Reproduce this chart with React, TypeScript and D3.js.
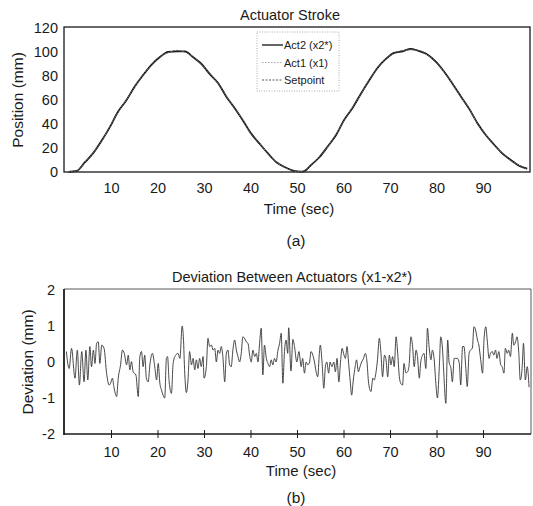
import React from "react";
import * as d3 from "d3";

// Actuator stroke (top panel)
const strokeTime = [0.7, 2.5, 4.3, 6.1, 7.9, 9.7, 11.4, 13.2, 15, 16.8, 18.6, 20.4, 22.2, 24, 25.8, 27.5, 29.3, 31.1, 32.9, 34.7, 36.5, 38.3, 40, 41.8, 43.6, 45.4, 47.2, 49, 50, 51.1, 52.9, 54.7, 56.5, 58.3, 60, 61.9, 63.7, 65.4, 67.2, 69, 70.8, 72.6, 74.4, 76.2, 78, 79.8, 81.5, 83.3, 85.1, 86.9, 88.7, 90.5, 92.3, 94.1, 95.8, 97.6, 99.4];
const setpoint = [0, 1, 8, 16, 26, 38, 50, 60, 71, 81, 89, 96, 99.5, 101, 100, 96, 90, 82, 74, 63, 53, 43, 32, 24, 15.5, 8.5, 4, 1.5, 0.3, 0.5, 5.5, 12.5, 21, 31, 43, 54, 65.5, 76.5, 86.5, 94.5, 99, 101, 102, 101, 97.5, 92, 83.5, 74, 63, 53, 40.5, 31, 22.5, 15.5, 10, 5.5, 2.5];
const act1 = [0.3, 1.2, 7.8, 16.2, 25.8, 38.2, 49.8, 60.2, 70.8, 81.2, 88.8, 96.2, 99.3, 101.4, 99.8, 96.2, 89.8, 82.2, 73.8, 63.2, 52.8, 43.2, 31.8, 24.2, 15.3, 8.7, 3.8, 1.7, 0.2, 0.7, 5.3, 12.7, 20.8, 31.2, 42.8, 54.2, 65.3, 76.7, 86.3, 94.7, 98.8, 101.4, 101.7, 101.3, 97.3, 92.2, 83.3, 74.2, 62.8, 53.2, 40.3, 31.2, 22.3, 15.7, 9.8, 5.7, 2.3];
const act2 = [0.1, 0.9, 8.2, 15.9, 26.2, 37.8, 50.2, 59.8, 71.2, 80.8, 89.3, 95.8, 100.1, 100.5, 100.5, 95.8, 90.2, 81.8, 74.2, 62.8, 53.2, 42.8, 32.2, 23.8, 15.7, 8.3, 4.2, 1.2, 0.5, 0.3, 5.7, 12.3, 21.2, 30.8, 43.2, 53.8, 65.7, 76.3, 86.7, 94.3, 99.3, 100.6, 102.6, 100.7, 97.8, 91.7, 83.7, 73.8, 63.2, 52.8, 40.7, 30.8, 22.7, 15.3, 10.2, 5.3, 2.8];

// Deviation x1 - x2* (bottom panel)
const devTime = [0.3, 0.5, 0.9, 1.4, 2.15, 2.65, 3.1, 3.6, 4.1, 4.5, 4.9, 5.35, 5.7, 6.1, 6.45, 6.8, 7.15, 7.5, 7.9, 8.4, 8.95, 9.5, 9.8, 10.2, 10.5, 11.1, 11.45, 11.95, 12.35, 12.75, 13.25, 13.6, 13.95, 14.3, 14.65, 15.25, 15.75, 16.1, 16.45, 16.8, 17.15, 17.5, 17.9, 18.25, 18.8, 19.3, 19.7, 20.05, 20.4, 20.75, 21.1, 21.45, 21.8, 22.05, 22.4, 22.9, 23.25, 23.8, 24.3,
  24.7, 25.2, 25.45, 25.75, 26.1, 26.45, 26.8, 27.2, 27.55, 27.9, 28.25, 28.6, 28.95, 29.3, 29.7, 29.9, 30.4, 30.75, 31.1, 31.5, 31.85, 32.2, 32.55, 32.9, 33.25, 33.6, 33.95, 34.35, 34.7, 35.05, 35.4, 35.75, 36.1, 36.5, 36.85, 37.2, 37.55, 37.9, 38.25, 38.6, 39.0, 39.35, 39.7, 40.05, 40.4, 40.8, 41.15, 41.5, 41.85, 42.2, 42.55, 42.9, 43.3, 43.65, 44.0, 44.35, 44.7, 45.05, 45.4, 45.8, 46.15, 46.5, 46.85, 47.2, 47.55, 47.9, 48.1, 48.6, 49.0,
  49.35, 49.85, 50.3, 50.8, 51.1, 51.5, 51.85, 52.2, 52.6, 52.9, 53.3, 53.65, 54.0, 54.35, 54.7, 54.9, 55.3, 55.65, 56.0, 56.3, 56.7, 57.0, 57.4, 57.8, 58.15, 58.5, 58.9, 59.2, 59.6, 59.9, 60.3, 60.65, 61.0, 61.35, 61.65, 62.0, 62.4, 62.7, 63.1, 63.45, 63.8, 64.2, 64.6, 64.9, 65.3, 65.8, 66.2, 66.5, 66.9, 67.2, 67.6, 67.95, 68.3, 68.7, 69.0, 69.4, 69.75, 70.1, 70.45, 70.8, 71.2, 71.5, 71.9, 72.2, 72.6, 72.9, 73.3, 73.7, 74.0,
  74.4, 74.75, 75.1, 75.5, 75.8, 76.2, 76.5, 76.9, 77.2, 77.6, 77.95, 78.3, 78.7, 79.0, 79.4, 79.75, 80.1, 80.5, 80.8, 81.2, 81.5, 81.9, 82.3, 82.6, 83.0, 83.3, 83.7, 84.0, 84.4, 84.8, 85.1, 85.5, 85.8, 86.2, 86.5, 86.9, 87.2, 87.6, 87.95, 88.3, 88.7, 89.0, 89.4, 89.8, 90.1, 90.5, 90.8, 91.2, 91.5, 91.9, 92.2, 92.6, 92.9, 93.3, 93.7, 94.0, 94.4, 94.7, 95.1, 95.4, 95.8, 96.2, 96.5, 96.9, 97.2, 97.6, 97.9, 98.3, 98.6, 99.0, 99.4, 99.8];
const devValue = [0.29, 0.05, -0.18, 0.38, -0.45, 0.33, -0.64, 0.29, -0.55, 0.33, -0.5, 0.43, -0.13, 0.33, -0.04, 0.52, 0.56, -0.04, 0.47, 0.38, -0.32, -0.64, -0.59, -0.45, -0.68, -0.96, -0.45, -0.08, 0.33, 0.24, -0.08, 0.19, -0.22, 0.01, -0.27, -0.36, -0.96, 0.15, 0.29, -0.13, 0.19, -0.45, -0.55, -0.08, 0.24, -0.13, -0.5, -0.04, -0.59, -0.78, -0.92, -1.0, 0.1, 0.15, -0.55, -0.87, -0.04, 0.19, 0.24,
  0.1, 1.0, 0.7, -0.31, -0.85, -0.5, 0.29, -0.08, 0.1, -0.22, 0.06, -0.18, 0.1, -0.13, 0.15, -0.45, -0.13, 0.66, 0.43, 0.47, 0.33, 0.38, 0, 0.33, 0.24, 0.43, 0.15, -0.55, 0.24, 0.33, -0.08, -0.13, 0.33, 0.61, 0.33, 0.15, 0, 0.24, 0.7, 0.66, 0.56, 0.52, 0.19, 0, 0.33, 0.15, 0.24, 0, 0.52, 0.94, -0.36, 0.47, 0.1, -0.04, -0.13, 0.06, -0.08, 0.1, 0, 0.33, 0.52, 0.8, -0.59, 0.29, 0.61, 0.24, 0.95, -0.25, 0.63,
  0.43, 0, 0.29, -0.13, 0.1, -0.31, 0, -0.08, 0, 0.29, 0.19, 0, -0.27, -0.41, 0.24, 0.47, -0.04, -0.73, -0.13, 0, -0.31, 0, -0.13, 0, -0.27, 0.1, -0.55, -0.08, 0.38, 0.24, 0.1, 0.43, -0.04, -0.55, -0.92, -0.5, -0.13, 0.06, -0.27, -0.13, 0, 0.1, 0.24, 0.06, -0.59, -0.82, -0.45, -0.5, -0.27, 0.06, 0.66, 0.24, -0.41, 0.19, 0.1, -0.41, 0.19, -0.08, 0.15, -0.13, 0.7, 0.33, -0.41, -0.59, -0.64, -0.04, -0.3, -0.27, -0.08,
  0.7, 0.43, -0.13, 0.33, 0.15, -0.45, 0, 0.19, 0.24, -0.18, 0.94, 0.43, 0.06, 0.33, 0.06, -0.59, -1.0, -0.13, 0.7, 0.33, -0.41, -1.15, 0.61, 0, -0.18, -0.55, 0.1, 0.1, 0.1, -0.04, -0.64, 0.43, 0.43, -0.18, -0.68, 0.24, 0.33, 0.38, 0.98, 0.89, 0.61, 0.47, 0.06, -0.31, 0.61, 0.98, 0.61, 0.1, 0.24, 0.29, 0.19, 0.33, 0.1, 0.29, -0.08, -0.13, -0.31, 0.38, 0.24, 0.33, 0.15, 0.8, 0.47, 0.56, 0.7, 0.24, -0.5, -0.18, 0.52, -0.5, -0.13, -0.7];

const xTicks = [10, 20, 30, 40, 50, 60, 70, 80, 90];
const posTicks = [0, 20, 40, 60, 80, 100, 120];
const devTicks = [-2, -1, 0, 1, 2];
const legendLabels = ["Act2 (x2*)", "Act1 (x1)", "Setpoint"];

const FONT = "'Liberation Sans', Arial, sans-serif";
const INK = "#1a1a1a";

export default function App() {
  const x = d3.scaleLinear().domain([0, 100]).range([65, 530]);
  const yPos = d3.scaleLinear().domain([0, 120]).range([172, 28]);
  const yDev = d3.scaleLinear().domain([-2, 2]).range([434, 290]);

  const posLine = (vals: number[]) =>
    d3
      .line<number>()
      .x((_, i) => x(strokeTime[i]))
      .y((d) => yPos(d))
      .curve(d3.curveMonotoneX)(vals) || "";
  const devLine =
    d3
      .line<number>()
      .x((_, i) => x(devTime[i]))
      .y((d) => yDev(d))
      .curve(d3.curveMonotoneX)(devValue) || "";

  const legendStyles = [
    { stroke: "#111", dash: "none", width: 1.3 },
    { stroke: "#aaa", dash: "1.5,1.5", width: 1 },
    { stroke: "#555", dash: "2,1.5", width: 1 },
  ];

  return (
    <svg
      width={533}
      height={506}
      style={{ position: "absolute", left: 0, top: 0, background: "#fff" }}
      fontFamily={FONT}
    >
      {/* ---- (a) Actuator Stroke ---- */}
      <text x={290} y={20} textAnchor="middle" fontSize={14.5} fill={INK}>
        Actuator Stroke
      </text>
      <rect x={64} y={27} width={466} height={145} fill="none" stroke={INK} strokeWidth={1.3} />
      <path d={posLine(act2)} fill="none" stroke="#111" strokeWidth={1.8} />
      <path d={posLine(act1)} fill="none" stroke="#888" strokeWidth={1} strokeDasharray="1.5,1.5" />
      <path d={posLine(setpoint)} fill="none" stroke="#444" strokeWidth={0.9} strokeDasharray="2,1.5" />
      {posTicks.map((t) => (
        <text key={t} x={58} y={yPos(t) + 5} textAnchor="end" fontSize={14.5} fill={INK}>
          {t}
        </text>
      ))}
      {xTicks.map((t) => (
        <text key={t} x={x(t)} y={193} textAnchor="middle" fontSize={14.5} fill={INK}>
          {t}
        </text>
      ))}
      <text transform="translate(23,100) rotate(-90)" textAnchor="middle" fontSize={15.5} fill={INK}>
        Position (mm)
      </text>
      <text x={299} y={214} textAnchor="middle" fontSize={15} fill={INK}>
        Time (sec)
      </text>
      <text x={296} y={246} textAnchor="middle" fontSize={15.5} fill={INK}>
        (a)
      </text>

      {/* legend */}
      <rect x={257} y={32} width={82} height={59} fill="#fff" stroke="#999" strokeWidth={0.8} strokeDasharray="1,1.5" />
      {legendLabels.map((lab, i) => (
        <g key={lab}>
          <line
            x1={262}
            x2={283}
            y1={45 + i * 17.5}
            y2={45 + i * 17.5}
            stroke={legendStyles[i].stroke}
            strokeWidth={legendStyles[i].width}
            strokeDasharray={legendStyles[i].dash}
          />
          <text x={284} y={45 + i * 17.5 + 4} fontSize={11} fill={INK}>
            {lab}
          </text>
        </g>
      ))}

      {/* ---- (b) Deviation ---- */}
      <text x={292} y={282} textAnchor="middle" fontSize={14.5} fill={INK}>
        Deviation Between Actuators (x1-x2*)
      </text>
      <line x1={64} x2={531} y1={289} y2={289} stroke="#444" strokeWidth={0.9} />
      <line x1={531} x2={531} y1={289} y2={434} stroke="#444" strokeWidth={0.9} />
      <path d={devLine} fill="none" stroke="#333" strokeWidth={0.9} />
      <line x1={64} x2={64} y1={289} y2={435} stroke={INK} strokeWidth={1.8} />
      <line x1={64} x2={531} y1={434} y2={434} stroke={INK} strokeWidth={1.6} />
      {xTicks.map((t) => (
        <line key={t} x1={x(t)} x2={x(t)} y1={430} y2={438} stroke={INK} strokeWidth={1} />
      ))}
      {devTicks.map((t) => (
        <text key={t} x={55} y={yDev(t) + 5} textAnchor="end" fontSize={14.5} fill={INK}>
          {t}
        </text>
      ))}
      {xTicks.map((t) => (
        <text key={t} x={x(t)} y={457} textAnchor="middle" fontSize={14.5} fill={INK}>
          {t}
        </text>
      ))}
      <text transform="translate(33,362) rotate(-90)" textAnchor="middle" fontSize={15.5} fill={INK}>
        Deviation (mm)
      </text>
      <text x={301} y={476} textAnchor="middle" fontSize={15} fill={INK}>
        Time (sec)
      </text>
      <text x={296} y={503} textAnchor="middle" fontSize={15.5} fill={INK}>
        (b)
      </text>
    </svg>
  );
}
